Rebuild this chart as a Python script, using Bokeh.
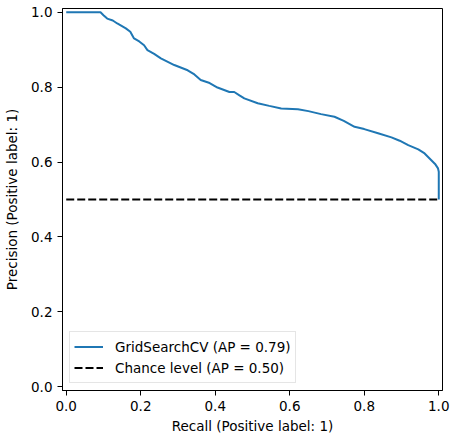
from bokeh.plotting import figure
from bokeh.models import Range1d, FixedTicker, PrintfTickFormatter, Legend, LegendItem
from bokeh.embed import file_html
from bokeh.resources import INLINE

# Precision-recall curve values
recall = [0.0, 0.092, 0.10, 0.11, 0.125, 0.137, 0.16, 0.172, 0.182, 0.196, 0.209, 0.218,
          0.236, 0.254, 0.29, 0.326, 0.344, 0.361, 0.385, 0.406, 0.438, 0.451, 0.465,
          0.478, 0.514, 0.545, 0.577, 0.622, 0.65, 0.684, 0.72, 0.745, 0.774, 0.80,
          0.837, 0.873, 0.895, 0.918, 0.945, 0.962, 0.98, 0.99, 0.998, 1.0, 1.0]
precision = [1.0, 1.0, 0.992, 0.983, 0.978, 0.970, 0.957, 0.948, 0.930, 0.922, 0.912, 0.899,
             0.889, 0.877, 0.859, 0.845, 0.834, 0.819, 0.811, 0.799, 0.787, 0.787, 0.778,
             0.770, 0.757, 0.750, 0.743, 0.741, 0.736, 0.728, 0.721, 0.710, 0.694, 0.688,
             0.677, 0.666, 0.657, 0.645, 0.634, 0.623, 0.605, 0.595, 0.583, 0.574, 0.5]
chance_x = [0.0, 1.0]
chance_y = [0.5, 0.5]
ticks = [0.0, 0.2, 0.4, 0.6, 0.8, 1.0]
curve_label = "GridSearchCV (AP = 0.79)"
chance_label = "Chance level (AP = 0.50)"
x_label = "Recall (Positive label: 1)"
y_label = "Precision (Positive label: 1)"

FONT = "DejaVu Sans"
FS = "13.5px"

p = figure(width=450, height=438, output_backend="svg", toolbar_location=None,
           x_range=Range1d(-0.01, 1.01), y_range=Range1d(-0.01, 1.01),
           min_border_left=62, min_border_right=8, min_border_top=8, min_border_bottom=48)
p.background_fill_color = "white"
p.border_fill_color = "white"
p.outline_line_color = "black"
p.outline_line_width = 1
p.grid.visible = False

r1 = p.line(recall, precision, line_color="#1f77b4", line_width=2)
r2 = p.line(chance_x, chance_y, line_color="black", line_width=2, line_dash="8 3")

for ax in (p.xaxis[0], p.yaxis[0]):
    ax.ticker = FixedTicker(ticks=ticks)
    ax.formatter = PrintfTickFormatter(format="%.1f")
    ax.axis_line_color = "black"
    ax.major_tick_line_color = "black"
    ax.major_tick_in = 0
    ax.major_tick_out = 5
    ax.minor_tick_line_color = None
    ax.major_label_text_font = FONT
    ax.major_label_text_font_size = FS
    ax.major_label_text_color = "black"
    ax.axis_label_text_font = FONT
    ax.axis_label_text_font_size = FS
    ax.axis_label_text_font_style = "normal"
    ax.axis_label_text_color = "black"
    ax.major_label_standoff = 5

p.xaxis.axis_label = x_label
p.yaxis.axis_label = y_label
p.xaxis.axis_label_standoff = 4
p.yaxis.axis_label_standoff = 8

legend = Legend(items=[LegendItem(label=curve_label, renderers=[r1]),
                       LegendItem(label=chance_label, renderers=[r2])],
                location="bottom_left")
legend.label_text_font = FONT
legend.label_text_font_size = FS
legend.label_text_color = "black"
legend.glyph_width = 29
legend.glyph_height = 21
legend.label_height = 21
legend.label_standoff = 12
legend.spacing = 0
legend.padding = 4
legend.margin = 7
legend.border_line_color = "#cccccc"
legend.border_line_width = 1
legend.background_fill_alpha = 0.8
p.add_layout(legend)

open("out.html", "w").write(file_html(p, INLINE))
